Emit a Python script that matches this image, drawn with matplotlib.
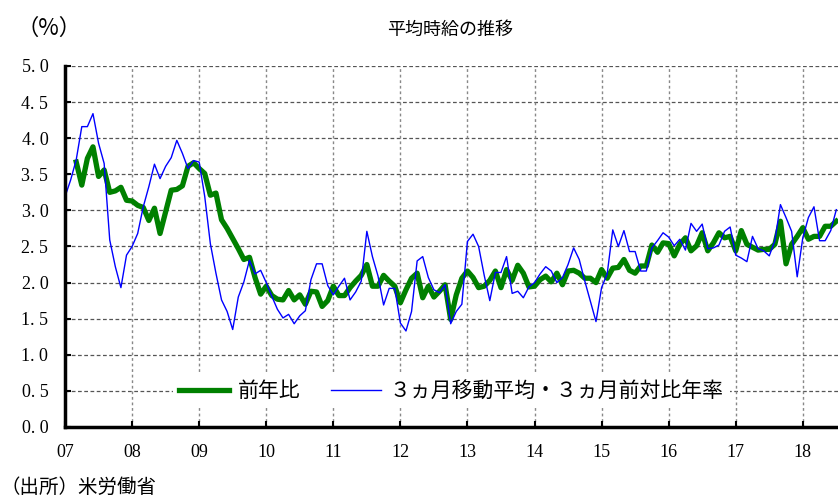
import numpy as np
import matplotlib.pyplot as plt

# 前年比 (monthly, from Mar 2007)
yoy = [3.67, 3.35, 3.72, 3.88, 3.47, 3.56, 3.25, 3.27, 3.32, 3.14,
       3.13, 3.07, 3.04, 2.86, 3.03, 2.68, 2.98, 3.28, 3.29, 3.34, 3.61, 3.66,
       3.58, 3.51, 3.21, 3.24, 2.87, 2.75, 2.61, 2.47, 2.32, 2.35, 2.07, 1.84,
       1.95, 1.82, 1.77, 1.76, 1.89, 1.76, 1.83, 1.70, 1.88, 1.87, 1.67, 1.75,
       1.95, 1.82, 1.82, 1.93, 2.02, 2.10, 2.25, 1.95, 1.95, 2.10, 2.02, 1.95,
       1.72, 1.90, 2.06, 2.13, 1.79, 1.95, 1.80, 1.88, 1.97, 1.49, 1.83, 2.06,
       2.16, 2.07, 1.93, 1.95, 2.03, 2.16, 1.93, 2.18, 2.03, 2.24, 2.13, 1.94,
       1.95, 2.04, 2.09, 2.01, 2.13, 1.97, 2.16, 2.17, 2.13, 2.06, 2.06, 2.00,
       2.18, 2.06, 2.20, 2.21, 2.32, 2.17, 2.13, 2.23, 2.23, 2.52, 2.42, 2.55,
       2.54, 2.37, 2.53, 2.62, 2.44, 2.51, 2.69, 2.44, 2.55, 2.69, 2.62, 2.64,
       2.44, 2.72, 2.53, 2.49, 2.45, 2.46, 2.46, 2.53, 2.85, 2.26, 2.53, 2.64,
       2.76, 2.60, 2.64, 2.64, 2.78, 2.78, 2.85]

# ３ヵ月移動平均・３ヵ月前対比年率 (monthly, from Jan 2007)
avg3m = [3.19, 3.42, 3.70, 4.16, 4.16, 4.34, 3.93, 3.65, 2.59, 2.22, 1.93, 2.38,
         2.50, 2.68, 3.05, 3.33, 3.64, 3.44, 3.61, 3.73, 3.97, 3.79, 3.58, 3.69,
         3.67, 3.19, 2.54, 2.13, 1.76, 1.60, 1.35, 1.80, 2.01, 2.31, 2.12, 2.17,
         2.00, 1.81, 1.63, 1.51, 1.56, 1.43, 1.54, 1.61, 2.04, 2.26, 2.26, 1.96,
         1.83, 1.95, 2.06, 1.76, 1.87, 2.02, 2.71, 2.36, 2.09, 1.69, 1.92, 1.92,
         1.44, 1.33, 1.60, 2.30, 2.36, 2.07, 1.90, 1.86, 1.97, 1.43, 1.60, 1.70,
         2.57, 2.67, 2.50, 2.10, 1.75, 2.14, 2.14, 2.36, 1.85, 1.88, 1.79, 1.94,
         2.00, 2.12, 2.22, 2.16, 2.00, 2.07, 2.25, 2.48, 2.32, 2.02, 1.74, 1.46,
         1.93, 2.12, 2.73, 2.50, 2.72, 2.43, 2.43, 2.16, 2.16, 2.48, 2.58, 2.69,
         2.63, 2.51, 2.60, 2.45, 2.82, 2.71, 2.81, 2.47, 2.48, 2.52, 2.71, 2.77,
         2.38, 2.34, 2.29, 2.64, 2.47, 2.44, 2.37, 2.58, 3.08, 2.90, 2.71, 2.08,
         2.62, 2.90, 3.05, 2.58, 2.58, 2.72, 3.01]

yoy_start = 2007 + 2 / 12
avg_start = 2007.0
years = list(range(2007, 2019))
year_labels = [f"{y % 100:02d}" for y in years]
y_ticks = [0.5 * i for i in range(11)]

jp = ['Noto Sans CJK JP', 'DejaVu Sans']
num = ['Liberation Serif', 'Noto Sans CJK JP']

fig = plt.figure(figsize=(8.38, 4.98), dpi=100)
ax = fig.add_axes([0.0776, 0.1426, 0.9224, 0.7249])

x_yoy = yoy_start + np.arange(len(yoy)) / 12
x_avg = avg_start + np.arange(len(avg3m)) / 12
ax.plot(x_yoy, yoy, color='#008000', lw=3.8, label='前年比', solid_joinstyle='round')
ax.plot(x_avg, avg3m, color='#0000ff', lw=1.0, label='３ヵ月移動平均・３ヵ月前対比年率')

ax.set_xlim(2007, 2007 + 138.3 / 12)
ax.set_ylim(0, 5)
ax.set_xticks(years)
ax.set_xticklabels(year_labels, family=num, fontsize=13)
ax.set_yticks(y_ticks)
ax.set_yticklabels([f"{v:.1f}".replace('.', '. ') for v in y_ticks], family=num, fontsize=13)
ax.tick_params(axis='both', direction='in', length=4, width=1.5, colors='black')
ax.tick_params(axis='x', pad=12)
ax.tick_params(axis='y', pad=12)

for y in y_ticks[1:]:
    ax.axhline(y, color='#555555', lw=0.9, ls=(0, (3, 2)), zorder=0)
for x in years[1:]:
    ax.axvline(x, color='#888888', lw=1.0, ls=(0, (2, 2)), zorder=0)

for s in ['top', 'right']:
    ax.spines[s].set_visible(False)
for s in ['left', 'bottom']:
    ax.spines[s].set_linewidth(2.5)

leg = ax.legend(loc='center', bbox_to_anchor=(0.5, 0.10), ncol=2, prop={'family': jp, 'size': 15},
                handlelength=2.4, handletextpad=0.4, columnspacing=1.5,
                frameon=True, framealpha=1, borderpad=0.3)
leg.get_frame().set_linewidth(0)

fig.text(0.058, 1 - 28 / 498, '（%）', family=jp, fontsize=16, ha='center', va='center')
fig.text(0.537, 1 - 30 / 498, '平均時給の推移', family=jp, fontsize=13, ha='center', va='center')
fig.text(0.0, 1 - 487 / 498, '（出所）米労働省', family=jp, fontsize=14, ha='left', va='center')

fig.savefig('out.png', dpi=100)
